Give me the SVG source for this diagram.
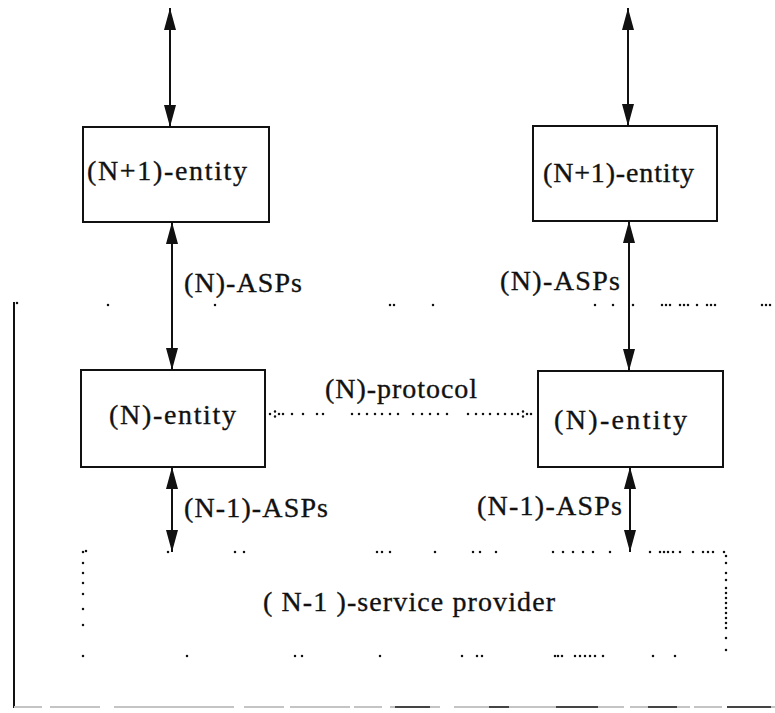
<svg xmlns="http://www.w3.org/2000/svg" width="775" height="713" viewBox="0 0 775 713">
  <style>
    .box { fill: #fff; stroke: #111; stroke-width: 2; }
    .lbl { font-family: "Liberation Serif", "Times New Roman", serif; font-size: 28px; fill: #111; stroke: #111; stroke-width: 0.35; }
    .arrow { stroke: #111; stroke-width: 2; fill: none; marker-start: url(#head); marker-end: url(#head); }
    .dots { fill: none; stroke: #111; stroke-width: 2.5; stroke-linecap: round; }
    .rule { stroke: #111; stroke-width: 2; fill: none; }
  </style>
  <defs>
    <marker id="head" markerUnits="userSpaceOnUse" markerWidth="24" markerHeight="12" refX="22" refY="6" orient="auto-start-reverse">
      <path d="M0,0 L22,6 L0,12 Z" fill="#111"/>
    </marker>
  </defs>
  <rect width="775" height="713" fill="#fff"/>

  <!-- (N)-layer boundary -->
  <g id="layer-boundary">
    <line class="rule" x1="14" y1="302" x2="14" y2="708"/>
    <path class="dots" d="M17 303h0.01 M108 305h0.01 M215 305h0.01 M390 305h0.01 M394 305h0.01 M433 305h0.01 M595 305h0.01 M613 305h0.01 M633 305h0.01 M662 305h0.01 M666 305h0.01 M670 305h0.01 M680 305h0.01 M684 305h0.01 M688 305h0.01 M697 305h0.01 M707 305h0.01 M711 305h0.01 M715 305h0.01 M762 305h0.01 M766 305h0.01 M770 305h0.01"/>
    <line x1="14" y1="707" x2="775" y2="707" stroke="#c4c4c4" stroke-width="2" stroke-dasharray="28 8 50 14 120 10 40 6 60 4"/>
    <path d="M395 707H430 M489 707H509 M556 707H598 M648 707H677 M727 707H771" stroke="#444" stroke-width="2" fill="none"/>
  </g>

  <!-- entities -->
  <g id="n1-entity-a">
    <rect class="box" x="83" y="127" width="186" height="95"/>
    <text class="lbl" x="87" y="180" textLength="160" lengthAdjust="spacing">(N+1)-entity</text>
  </g>
  <g id="n1-entity-b">
    <rect class="box" x="533" y="126" width="184" height="95"/>
    <text class="lbl" x="543" y="182" textLength="151" lengthAdjust="spacing">(N+1)-entity</text>
  </g>
  <g id="n-entity-a">
    <rect class="box" x="81" y="370" width="184" height="97"/>
    <text class="lbl" x="109" y="424" textLength="127" lengthAdjust="spacing">(N)-entity</text>
  </g>
  <g id="n-entity-b">
    <rect class="box" x="538" y="371" width="185" height="96"/>
    <text class="lbl" x="554" y="429" textLength="133" lengthAdjust="spacing">(N)-entity</text>
  </g>

  <!-- (N-1)-service provider, dotted outline -->
  <g id="service-provider">
    <path class="dots" d="M83 552h0.01 M86 551h0.01 M168 552h0.01 M235 552h0.01 M244 552h0.01 M377 552h0.01 M382 552h0.01 M390 552h0.01 M435 552h0.01 M473 552h0.01 M480 552h0.01 M496 552h0.01 M553 552h0.01 M563 552h0.01 M573 552h0.01 M583 552h0.01 M593 552h0.01 M610 552h0.01 M650 552h0.01 M660 552h0.01 M664 552h0.01 M668 552h0.01 M673 552h0.01 M680 552h0.01 M693 552h0.01 M703 552h0.01 M708 552h0.01 M713 552h0.01 M724 552h0.01"/>
    <path class="dots" d="M83 563h0.01 M83 573h0.01 M83 583h0.01 M83 594h0.01 M83 609h0.01 M83 625h0.01 M83 656h0.01"/>
    <path class="dots" d="M726 556h0.01 M726 563h0.01 M726 573h0.01 M726 580h0.01 M726 588h0.01 M726 593h0.01 M726 598h0.01 M726 603h0.01 M726 608h0.01 M726 613h0.01 M726 618h0.01 M726 623h0.01 M726 628h0.01 M726 638h0.01 M726 650h0.01"/>
    <path class="dots" d="M187 656h0.01 M295 656h0.01 M302 656h0.01 M380 656h0.01 M462 656h0.01 M477 656h0.01 M482 656h0.01 M555 656h0.01 M558 656h0.01 M562 656h0.01 M575 656h0.01 M580 656h0.01 M585 656h0.01 M590 656h0.01 M595 656h0.01 M603 656h0.01 M653 656h0.01 M675 656h0.01"/>
    <text class="lbl" x="263" y="611" textLength="292" lengthAdjust="spacing">( N-1 )-service provider</text>
  </g>

  <!-- connectors -->
  <g id="connectors">
    <line class="arrow" x1="170" y1="8" x2="170" y2="127"/>
    <line class="arrow" x1="172" y1="222" x2="172" y2="370"/>
    <line class="arrow" x1="172" y1="467" x2="172" y2="552"/>
    <line class="arrow" x1="628" y1="8" x2="628" y2="126"/>
    <line class="arrow" x1="629" y1="221" x2="629" y2="371"/>
    <line class="arrow" x1="630" y1="467" x2="630" y2="552"/>
    <!-- (N)-protocol: dotted peer line with dotted heads -->
    <path class="dots" d="M270 414h0.01 M275 411.5h0.01 M275 416.5h0.01 M279 414h0.01 M283 414h0.01 M292 414h0.01 M303 414h0.01 M317 414h0.01 M323 414h0.01 M352 414h0.01 M359 414h0.01 M367 414h0.01 M375 414h0.01 M382 414h0.01 M390 414h0.01 M398 414h0.01 M413 414h0.01 M422 414h0.01 M430 414h0.01 M438 414h0.01 M447 414h0.01 M468 414h0.01 M476 414h0.01 M483 414h0.01 M490 414h0.01 M498 414h0.01 M505 414h0.01 M512 414h0.01 M518 414h0.01 M523 411.5h0.01 M523 416.5h0.01 M527 414h0.01 M531 414h0.01"/>
  </g>

  <!-- labels -->
  <g id="labels">
    <text class="lbl" x="184" y="292" textLength="118" lengthAdjust="spacing">(N)-ASPs</text>
    <text class="lbl" x="500" y="290" textLength="120" lengthAdjust="spacing">(N)-ASPs</text>
    <text class="lbl" x="325" y="398" textLength="152" lengthAdjust="spacing">(N)-protocol</text>
    <text class="lbl" x="184" y="517" textLength="144" lengthAdjust="spacing">(N-1)-ASPs</text>
    <text class="lbl" x="477" y="515" textLength="145" lengthAdjust="spacing">(N-1)-ASPs</text>
  </g>
</svg>
